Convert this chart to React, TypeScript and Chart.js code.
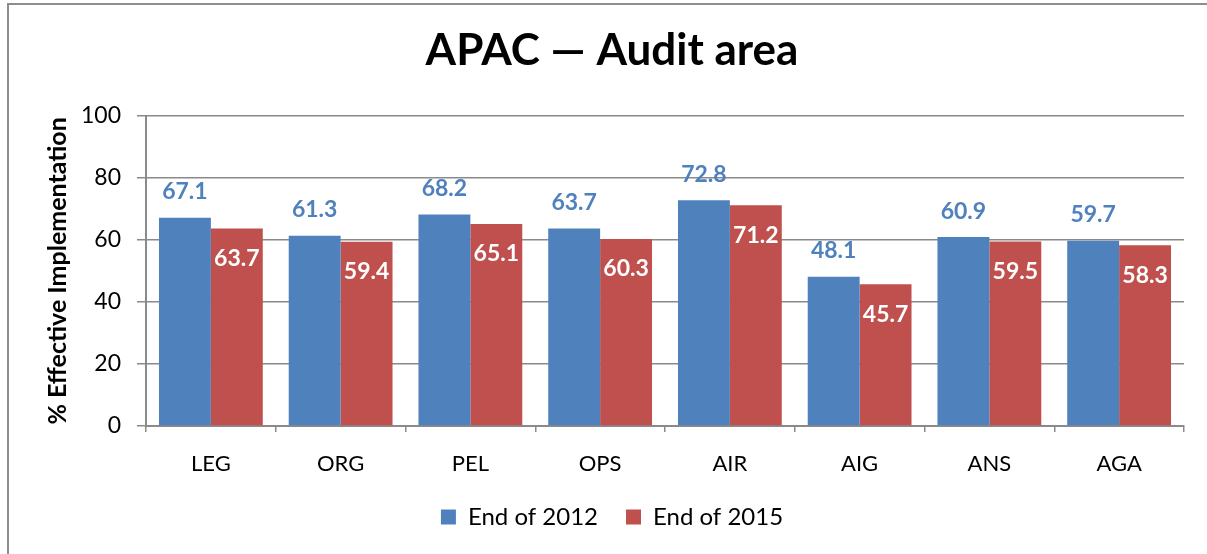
import React, { useEffect, useRef } from "react";
import { Chart, registerables } from "chart.js";

Chart.register(...registerables);

const categories = ["LEG", "ORG", "PEL", "OPS", "AIR", "AIG", "ANS", "AGA"];
const series2012 = [67.1, 61.3, 68.2, 63.7, 72.8, 48.1, 60.9, 59.7];
const series2015 = [63.7, 59.4, 65.1, 60.3, 71.2, 45.7, 59.5, 58.3];
const seriesNames = ["End of 2012", "End of 2015"];
const yTicks = [0, 20, 40, 60, 80, 100];

const FONT = "Lato, 'Open Sans', sans-serif";
const BLUE = "#4F81BD";
const RED = "#C0504D";
const GRID = "#8a8a8a";

const framePlugin = {
  id: "frame",
  beforeDraw(chart: any) {
    const ctx = chart.ctx;
    ctx.save();
    ctx.fillStyle = "#ffffff";
    ctx.fillRect(0, 0, chart.width, chart.height);
    ctx.strokeStyle = "#8e8e8e";
    ctx.lineWidth = 2;
    ctx.strokeRect(8, 4, chart.width + 20, chart.height + 40);
    ctx.restore();
  },
};

const labelPlugin = {
  id: "barLabels",
  afterDatasetsDraw(chart: any) {
    const ctx = chart.ctx;
    ctx.save();
    ctx.font = `bold 23px ${FONT}`;
    ctx.textAlign = "center";
    ctx.textBaseline = "middle";
    chart.data.datasets.forEach((ds: any, di: number) => {
      const meta = chart.getDatasetMeta(di);
      meta.data.forEach((bar: any, i: number) => {
        const v = ds.data[i];
        const txt = v.toFixed(1);
        if (di === 0) {
          ctx.fillStyle = BLUE;
          ctx.fillText(txt, bar.x, bar.y - 26);
        } else {
          ctx.fillStyle = "#ffffff";
          ctx.fillText(txt, bar.x, bar.y + 30);
        }
      });
    });
    ctx.restore();
  },
};

export default function App() {
  const ref = useRef<HTMLCanvasElement | null>(null);

  useEffect(() => {
    document.body.style.margin = "0";
    if (!ref.current) return;
    const chart = new Chart(ref.current, {
      type: "bar",
      data: {
        labels: categories,
        datasets: [
          {
            label: seriesNames[0],
            data: series2012,
            backgroundColor: BLUE,
            categoryPercentage: 0.8,
            barPercentage: 1.0,
          },
          {
            label: seriesNames[1],
            data: series2015,
            backgroundColor: RED,
            categoryPercentage: 0.8,
            barPercentage: 1.0,
          },
        ],
      },
      options: {
        responsive: false,
        animation: false,
        layout: { padding: { left: 40, right: 23, top: 0, bottom: 15 } },
        plugins: {
          title: {
            display: true,
            text: "APAC — Audit area",
            color: "#000",
            font: { family: FONT, size: 44, weight: "bold" },
            padding: { top: 24, bottom: 39 },
          },
          legend: {
            position: "bottom",
            labels: {
              boxWidth: 15,
              boxHeight: 15,
              color: "#000",
              font: { family: FONT, size: 24 },
              padding: 28,
            },
          },
          tooltip: { enabled: false },
        },
        scales: {
          x: {
            afterFit(scale: any) {
              scale.height = 51;
            },
            grid: {
              display: true,
              drawOnChartArea: false,
              drawTicks: true,
              tickLength: 6,
              color: GRID,
              lineWidth: 1.5,
            },
            border: { display: true, color: GRID, width: 2 },
            ticks: {
              color: "#000",
              font: { family: FONT, size: 22 },
              padding: 19,
            },
          },
          y: {
            min: 0,
            max: 100,
            afterFit(scale: any) {
              scale.width = 106;
            },
            afterBuildTicks(scale: any) {
              scale.ticks = yTicks.map((v) => ({ value: v }));
            },
            grid: {
              color: GRID,
              lineWidth: 1.5,
              tickLength: 9,
            },
            border: { display: true, color: GRID, width: 2 },
            ticks: {
              color: "#000",
              font: { family: FONT, size: 23 },
              padding: 16,
            },
            title: {
              display: true,
              text: "% Effective Implementation",
              color: "#000",
              font: { family: FONT, size: 25, weight: "bold" },
              padding: { top: 3, bottom: 0 },
            },
          },
        },
      },
      plugins: [framePlugin, labelPlugin],
    });
    return () => chart.destroy();
  }, []);

  return (
    <div style={{ width: 1207, height: 554 }}>
      <canvas ref={ref} width={1207} height={554} />
    </div>
  );
}
